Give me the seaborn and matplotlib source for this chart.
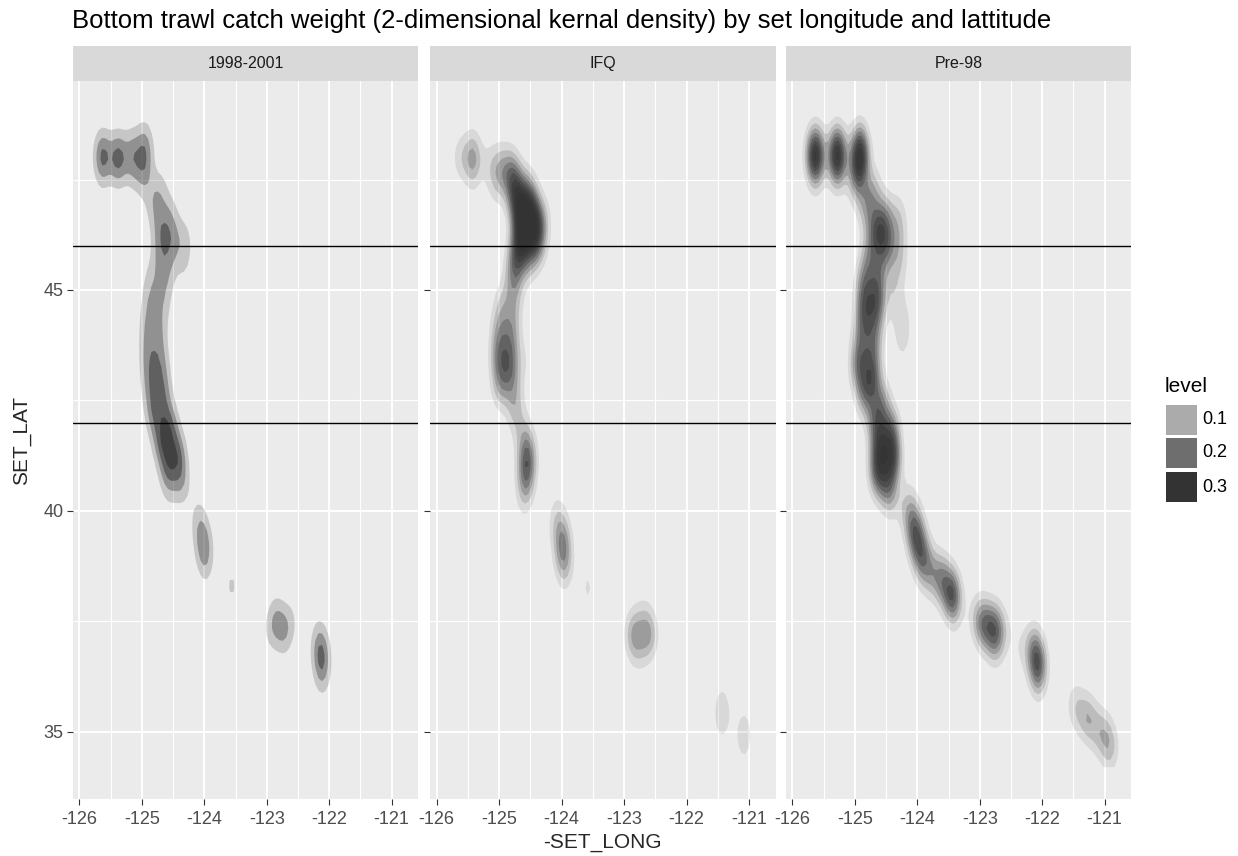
import numpy as np
import pandas as pd
import matplotlib
matplotlib.use("Agg")
import matplotlib.pyplot as plt
import seaborn as sns
from matplotlib.patches import Rectangle

# ---------------- data: set positions and relative catch weight per period -------
periods = ["1998-2001", "IFQ", "Pre-98"]

lon_9801 = [-125.63, -125.63, -125.38, -125.38, -125.15, -125.15, -124.95, -124.95,
            -124.98, -124.70, -124.82, -124.55, -124.70, -124.52, -124.72, -124.60,
            -124.85, -124.65, -124.90, -124.72, -124.92, -124.72, -124.90, -124.68,
            -124.86, -124.64, -124.80, -124.54, -124.68, -124.42, -124.58, -124.36,
            -124.56, -124.38, -124.30, -124.30, -124.35,
            -124.12, -124.05, -124.00, -123.97, -123.56,
            -122.85, -122.72, -122.95, -122.60, -122.20, -122.14, -122.12, -122.10]
lat_9801 = [48.10, 47.70, 48.05, 47.70, 48.15, 47.75, 48.35, 47.95,
            47.55, 47.25, 46.95, 46.65, 46.35, 46.05, 45.75, 45.45,
            45.15, 44.85, 44.55, 44.25, 43.95, 43.65, 43.35, 43.05,
            42.75, 42.45, 42.15, 41.85, 41.55, 41.25, 40.95, 40.65,
            40.35, 46.25, 46.20, 45.80, 45.40,
            39.95, 39.55, 39.15, 38.75, 38.30,
            37.55, 37.25, 37.25, 37.55, 37.25, 36.95, 36.55, 36.15]
wt_9801 = [3.2, 1.2, 3.3, 1.0, 2.0, 1.2, 1.8, 1.8,
           1.4, 1.4, 1.5, 1.6, 2.2, 2.0, 1.5, 1.5,
           1.5, 1.5, 1.5, 1.5, 1.6, 1.8, 2.0, 2.2,
           2.2, 2.2, 2.5, 3.0, 3.2, 3.2, 3.0, 2.0,
           0.6, 0.4, 0.8, 0.8, 0.5,
           0.8, 1.6, 2.2, 1.0, 1.4,
           2.0, 2.0, 0.9, 0.9, 0.5, 2.0, 2.6, 0.7]

lon_ifq = [-125.62, -125.42, -125.42, -125.15, -124.98, -124.82, -124.75, -124.55,
           -124.70, -124.48, -124.65, -124.42, -124.62, -124.45, -124.68, -124.55,
           -124.75, -124.78, -124.30, -124.35, -125.05,
           -124.75, -124.95, -124.78, -125.00, -124.82, -125.00,
           -124.82, -124.98, -124.75, -124.75, -124.60, -124.65, -124.55, -124.55,
           -124.58, -124.60, -124.08, -124.00, -123.97, -123.95, -123.58,
           -122.85, -122.60, -122.75, -122.70,
           -121.43, -121.43, -121.08, -121.08]
lat_ifq = [48.00, 48.05, 47.70, 47.85, 47.75, 47.65, 47.35, 47.15,
           47.00, 46.80, 46.65, 46.45, 46.30, 46.10, 45.95, 45.70,
           45.60, 45.25, 46.55, 46.00, 47.40,
           44.95, 44.65, 44.35, 44.05, 43.75, 43.45,
           43.15, 42.85, 42.55, 42.25, 43.40, 41.85, 41.45, 41.05,
           40.65, 40.30, 39.85, 39.45, 39.05, 38.65, 38.26,
           37.20, 37.20, 36.85, 37.55,
           35.60, 35.25, 35.10, 34.75]
wt_ifq = [0.7, 1.3, 0.5, 0.5, 1.0, 1.4, 1.6, 1.5,
          1.75, 1.9, 1.9, 1.9, 2.0, 1.6, 1.8, 0.9,
          1.2, 0.7, 0.8, 0.6, 0.5,
          0.6, 0.8, 0.9, 1.1, 1.4, 1.6,
          1.6, 1.2, 0.7, 0.5, 0.4, 0.5, 1.1, 1.8,
          1.0, 0.4, 0.6, 1.1, 1.3, 0.6, 0.55,
          1.4, 1.4, 0.5, 0.5,
          0.5, 0.5, 0.45, 0.45]

lon_pre98 = [-125.63, -125.63, -125.28, -125.28, -124.92, -124.92,
             -124.98, -124.70, -124.82, -124.52, -124.66, -124.50, -124.78, -124.62,
             -124.85, -124.65, -124.85, -124.68, -124.90, -124.72, -124.94, -124.72,
             -124.85, -124.56, -124.68, -124.42, -124.60, -124.40, -124.63, -124.48,
             -124.40, -124.30, -124.30, -124.30, -124.28, -124.38,
             -124.38, -124.25, -124.22, -124.25,
             -124.15, -124.05, -124.00, -123.92, -123.82, -123.70, -123.60, -123.45,
             -123.38, -123.05, -122.93, -122.76, -122.75, -122.60, -122.35, -122.15,
             -122.08, -122.05, -121.50, -121.40, -121.26, -121.15, -121.04, -120.92,
             -120.90]
lat_pre98 = [48.15, 47.80, 48.15, 47.80, 48.20, 47.85,
             47.50, 47.20, 46.90, 46.60, 46.30, 46.00, 45.70, 45.40,
             45.10, 44.80, 44.50, 44.20, 43.90, 43.60, 43.30, 43.00,
             42.70, 42.40, 42.10, 41.80, 41.50, 41.20, 40.90, 40.60,
             40.30, 46.35, 45.95, 46.75, 45.55, 45.15,
             44.80, 44.45, 44.10, 43.75,
             40.05, 39.65, 39.30, 38.95, 38.65, 38.55, 38.45, 38.12,
             37.80, 37.60, 37.42, 37.35, 37.00, 37.25, 36.90, 36.95,
             36.60, 36.25, 35.65, 35.45, 35.30, 35.05, 34.97, 34.75,
             34.50]
wt_pre98 = [3.0, 1.6, 3.0, 1.6, 2.6, 2.0,
            1.2, 1.1, 1.2, 1.6, 2.2, 1.8, 1.2, 1.2,
            1.6, 2.2, 2.0, 1.3, 1.2, 1.4, 1.9, 2.1,
            1.6, 1.4, 1.5, 1.9, 2.5, 2.7, 2.5, 1.6,
            0.6, 0.6, 0.5, 0.5, 0.5, 0.4,
            0.35, 0.4, 0.4, 0.3,
            1.0, 1.6, 1.6, 1.6, 1.0, 0.6, 1.5, 2.6,
            0.6, 0.7, 2.0, 2.0, 0.8, 0.5, 0.4, 1.0,
            2.2, 1.0, 0.5, 0.6, 1.1, 0.4, 0.9, 0.8,
            0.4]

# total catch weight of each period (sets too sparse to reach a contour included)
total_wt = {"1998-2001": 100.0, "IFQ": 100.0, "Pre-98": 100.0}

# contour levels of the density in each panel
levels_9801 = [0.05, 0.10, 0.15, 0.20, 0.25, 0.30]
levels_ifq = [0.02, 0.04, 0.06, 0.08, 0.10, 0.12, 0.14, 0.16, 0.18, 0.20, 0.22, 0.24, 0.26]
levels_pre98 = [0.02, 0.04, 0.06, 0.08, 0.10, 0.12, 0.14, 0.16, 0.18, 0.20, 0.22, 0.24, 0.26]

legend_levels = ["0.1", "0.2", "0.3"]
legend_colors = ["#ABABAB", "#6E6E6E", "#333333"]
x_ticks = [-126, -125, -124, -123, -122, -121]
y_ticks = [35, 40, 45]
ref_lats = [46, 42]
title = "Bottom trawl catch weight (2-dimensional kernal density) by set longitude and lattitude"

df = pd.concat([
    pd.DataFrame({"period": p, "lon": lo, "lat": la, "wt": w})
    for p, lo, la, w in [("1998-2001", lon_9801, lat_9801, wt_9801),
                         ("IFQ", lon_ifq, lat_ifq, wt_ifq),
                         ("Pre-98", lon_pre98, lat_pre98, wt_pre98)]
], ignore_index=True)
panel_levels = {"1998-2001": levels_9801, "IFQ": levels_ifq, "Pre-98": levels_pre98}

# ---------------- style --------------------------------------------------------
sns.set_theme(style="darkgrid", rc={
    "axes.facecolor": "#EBEBEB",
    "grid.color": "white",
    "axes.unicode_minus": False,
    "xtick.color": "#333333",
    "ytick.color": "#333333",
    "xtick.labelcolor": "#4D4D4D",
    "ytick.labelcolor": "#4D4D4D",
})
plt.rcParams["font.family"] = ["Liberation Sans", "DejaVu Sans"]

SX, SY = 0.10, 0.40
GX = np.linspace(-125.95, -120.75, 100)
GY = np.linspace(34.2, 49.0, 100)
LMIN, LMAX = 0.02, 0.30


def level_alpha(lev):
    return float(min(1.0, max(0.0, 0.1 + 0.9 * (lev - LMIN) / (LMAX - LMIN))))


def draw_panel(data, **kws):
    ax = plt.gca()
    period = data["period"].iloc[0]
    X, Y = np.meshgrid(GX, GY)
    Z = np.zeros_like(X)
    for x0, y0, w in zip(data["lon"], data["lat"], data["wt"]):
        Z += w * np.exp(-0.5 * ((X - x0) / SX) ** 2 - 0.5 * ((Y - y0) / SY) ** 2)
    Z /= 2 * np.pi * SX * SY * total_wt[period]
    zmax = Z.max()
    for lev in panel_levels[period]:
        if zmax > lev:
            ax.contourf(GX, GY, Z, levels=[lev, zmax * 1.01 + 1], colors=["#333333"],
                        alpha=level_alpha(lev), antialiased=True)
    for yl in ref_lats:
        ax.axhline(yl, color="black", lw=1.0, zorder=5)


g = sns.FacetGrid(df, col="period", col_order=periods, sharex=True, sharey=True,
                  height=4, aspect=0.8, despine=False)
g.map_dataframe(draw_panel)
g.set_titles("")
g.set_axis_labels("", "")

fig = g.figure
fig.set_size_inches(12.38, 8.56)
fig.set_dpi(100)

lefts = [72.7, 430.0, 785.7]
W, H = 1238.0, 856.0
for ax, left, period in zip(g.axes.flat, lefts, periods):
    ax.set_position([left / W, 1 - 799 / H, 345.6 / W, 718 / H])
    ax.set_xlim(-126.106, -120.574)
    ax.set_ylim(33.48, 49.73)
    ax.set_xticks(x_ticks)
    ax.set_xticklabels([str(t) for t in x_ticks])
    ax.set_yticks(y_ticks)
    ax.set_xticks([t + 0.5 for t in x_ticks[:-1]], minor=True)
    ax.set_yticks([37.5, 42.5, 47.5], minor=True)
    ax.grid(which="major", color="white", lw=1.4)
    ax.grid(which="minor", color="white", lw=0.8)
    ax.set_axisbelow(True)
    ax.tick_params(axis="both", which="major", length=4.3, width=0.8, labelsize=13,
                   bottom=True, left=True)
    ax.tick_params(axis="x", which="major", pad=4)
    ax.tick_params(axis="y", which="major", pad=2.2)
    ax.tick_params(which="minor", length=0)
    for s in ax.spines.values():
        s.set_visible(False)
    ax.add_patch(Rectangle((0, 1), 1, 35 / 718, transform=ax.transAxes,
                           facecolor="#D9D9D9", edgecolor="none", clip_on=False))
    ax.text(0.5, 1 + 17.5 / 718, period, transform=ax.transAxes, ha="center",
            va="center", fontsize=11.5, color="#1A1A1A")

fig.text(72 / W, 1 - 21 / H, title, ha="left", va="center", fontsize=18.5, color="black")
fig.text(602 / W, 1 - 843 / H, "-SET_LONG", ha="center", va="center", fontsize=15)
fig.text(22 / W, 1 - 440 / H, "SET_LAT", ha="center", va="center", rotation=90, fontsize=15)

# legend (alpha levels)
fig.text(1165 / W, 1 - 387 / H, "level", ha="left", va="center", fontsize=15, color="black")
key_tops = [405, 438, 472]
for top, col, lab in zip(key_tops, legend_colors, legend_levels):
    fig.add_artist(Rectangle((1166 / W, 1 - (top + 30) / H), 31 / W, 30 / H,
                             transform=fig.transFigure, facecolor=col, edgecolor="none"))
    fig.text(1202 / W, 1 - (top + 15) / H, lab, ha="left", va="center", fontsize=13,
             color="black")

fig.savefig("out.png", dpi=100)
